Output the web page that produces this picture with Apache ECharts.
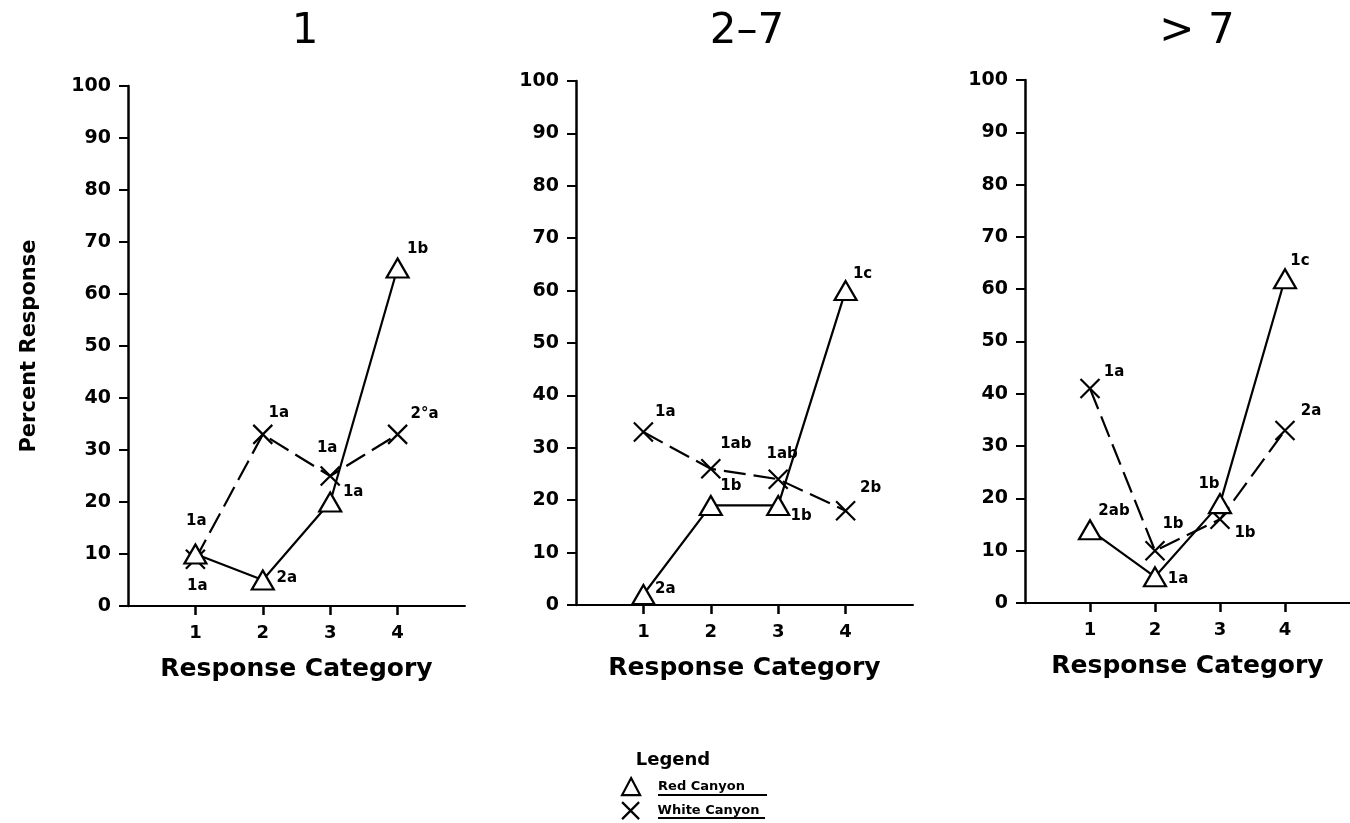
<!DOCTYPE html>
<html>
<head>
<meta charset="utf-8">
<script src="https://cdn.jsdelivr.net/npm/echarts@6/dist/echarts.min.js"></script>
<style>
  html, body { margin: 0; padding: 0; background: #fff; }
  #chart { width: 1350px; height: 823px; }
</style>
</head>
<body>
<div id="chart"></div>
<script>
// Response categories on the x axis
const categories = ['1', '2', '3', '4'];
// Panel headings (number of visits)
const panelTitles = ['1', '2\u20137', '> 7'];
// Percent response per category, one row per panel
const redCanyon = [
  [10, 5, 20, 65],
  [2, 19, 19, 60],
  [14, 5, 19, 62]
];
const whiteCanyon = [
  [9, 33, 25, 33],
  [33, 26, 24, 18],
  [41, 10, 16, 33]
];
// Significance letters printed beside each point
const redLetters = [
  ['1a', '2a', '1a', '1b'],
  ['2a', '1b', '1b', '1c'],
  ['2ab', '1a', '1b', '1c']
];
const whiteLetters = [
  ['1a', '1a', '1a', '2\u00b0a'],
  ['1a', '1ab', '1ab', '2b'],
  ['1a', '1b', '1b', '2a']
];
// y axis range and step
const yMin = 0, yMax = 100, yStep = 10;

// ---- layout ----
const FONT = 'DejaVu Sans';
const grids = [
  { left: 128, top: 86, width: 337, height: 520 },
  { left: 576, top: 81, width: 337, height: 524 },
  { left: 1025, top: 80, width: 340, height: 523 }
];
const titleCenters = [300, 742, 1192];
// pixel offsets of the letters from their point
const redOffsets = [
  [[2, 32], [24, -2], [23, -10], [20, -19]],
  [[22, -5], [20, -19], [23, 11], [17, -16]],
  [[24, -19], [23, 2], [-11, -20], [15, -18]]
];
const whiteOffsets = [
  [[1, -38], [16, -21], [-3, -28], [27, -20]],
  [[22, -20], [25, -25], [4, -25], [25, -23]],
  [[24, -16], [18, -27], [25, 14], [26, -19]]
];

const CROSS = 'path://M0,0L20,20M20,0L0,20';
const markStyle = { color: '#fff', borderColor: '#000', borderWidth: 2.2 };
const catValues = categories.map(c => Number(c));

function pointData(values, letters, offsets) {
  return values.map((v, i) => ({
    value: [catValues[i], v],
    label: { formatter: letters[i], offset: offsets[i] }
  }));
}

const labelStyle = {
  show: true,
  position: 'inside',
  color: '#000',
  fontFamily: FONT,
  fontWeight: 'bold',
  fontSize: 15,
  align: 'center',
  verticalAlign: 'middle'
};

const xAxes = grids.map((g, p) => ({
  type: 'value',
  gridIndex: p,
  min: 0,
  max: 5,
  interval: 1,
  splitLine: { show: false },
  axisLine: { show: true, onZero: false, lineStyle: { color: '#000', width: 2 } },
  axisTick: { show: true, customValues: catValues, length: 9, lineStyle: { color: '#000', width: 2.5 } },
  axisLabel: {
    customValues: catValues,
    formatter: v => (catValues.indexOf(v) >= 0 ? categories[catValues.indexOf(v)] : ''),
    color: '#000', fontFamily: FONT, fontWeight: 'bold', fontSize: 18, margin: 18
  },
  name: 'Response Category',
  nameLocation: 'middle',
  nameGap: 51,
  nameTextStyle: { color: '#000', fontFamily: FONT, fontWeight: 'bold', fontSize: 25 }
}));

const yAxes = grids.map((g, p) => ({
  type: 'value',
  gridIndex: p,
  min: yMin,
  max: yMax,
  interval: yStep,
  splitLine: { show: false },
  axisLine: { show: true, lineStyle: { color: '#000', width: 2.5 } },
  axisTick: { show: true, length: 9, lineStyle: { color: '#000', width: 2 } },
  axisLabel: { color: '#000', fontFamily: FONT, fontWeight: 'bold', fontSize: 19, margin: 17 },
  name: p === 0 ? 'Percent Response' : '',
  nameLocation: 'middle',
  nameGap: 88,
  nameRotate: 90,
  nameTextStyle: { color: '#000', fontFamily: FONT, fontWeight: 'bold', fontSize: 21 }
}));

const series = [];
grids.forEach((g, p) => {
  series.push({
    type: 'line',
    name: 'Red Canyon',
    xAxisIndex: p,
    yAxisIndex: p,
    data: pointData(redCanyon[p], redLetters[p], redOffsets[p]),
    symbol: 'triangle',
    symbolSize: [22, 19],
    itemStyle: markStyle,
    lineStyle: { color: '#000', width: 2.2, type: 'solid' },
    label: labelStyle,
    z: 3
  });
  series.push({
    type: 'line',
    name: 'White Canyon',
    xAxisIndex: p,
    yAxisIndex: p,
    data: pointData(whiteCanyon[p], whiteLetters[p], whiteOffsets[p]),
    symbol: CROSS,
    symbolSize: 19,
    itemStyle: markStyle,
    lineStyle: { color: '#000', width: 2.2, type: [22, 8] },
    label: labelStyle,
    z: 2
  });
});

const legendText = {
  color: '#000', fontFamily: FONT, fontWeight: 'bold', fontSize: 13,
  rich: { u: { padding: [0, 0, 0, 13], color: '#000', fontFamily: FONT, fontWeight: 'bold', fontSize: 13 } }
};
function legendRow(top, entry) {
  return {
    left: 616,
    top: top,
    itemWidth: 18,
    itemHeight: 17,
    selectedMode: false,
    data: [entry],
    formatter: '{u|{name}}',
    textStyle: legendText
  };
}

const option = {
  animation: false,
  backgroundColor: '#fff',
  title: panelTitles.map((t, p) => ({
    text: t,
    left: titleCenters[p],
    top: 6,
    textAlign: 'center',
    textStyle: { color: '#000', fontFamily: FONT, fontWeight: 'normal', fontSize: 42 }
  })),
  grid: grids,
  xAxis: xAxes,
  yAxis: yAxes,
  series: series,
  legend: [
    legendRow(772, { name: 'Red Canyon', icon: 'triangle', itemStyle: markStyle }),
    legendRow(796, { name: 'White Canyon', icon: CROSS, itemStyle: markStyle })
  ],
  graphic: [
    {
      type: 'text',
      x: 673, y: 760,
      style: { text: 'Legend', fill: '#000', font: 'bold 18px "DejaVu Sans"', align: 'center', verticalAlign: 'middle' }
    },
    { type: 'line', shape: { x1: 658, y1: 795, x2: 767, y2: 795 }, style: { stroke: '#000', lineWidth: 2 } },
    { type: 'line', shape: { x1: 658, y1: 818, x2: 765, y2: 818 }, style: { stroke: '#000', lineWidth: 2 } }
  ]
};

const chart = echarts.init(document.getElementById('chart'), null, { renderer: 'canvas' });
chart.setOption(option);
</script>
</body>
</html>
